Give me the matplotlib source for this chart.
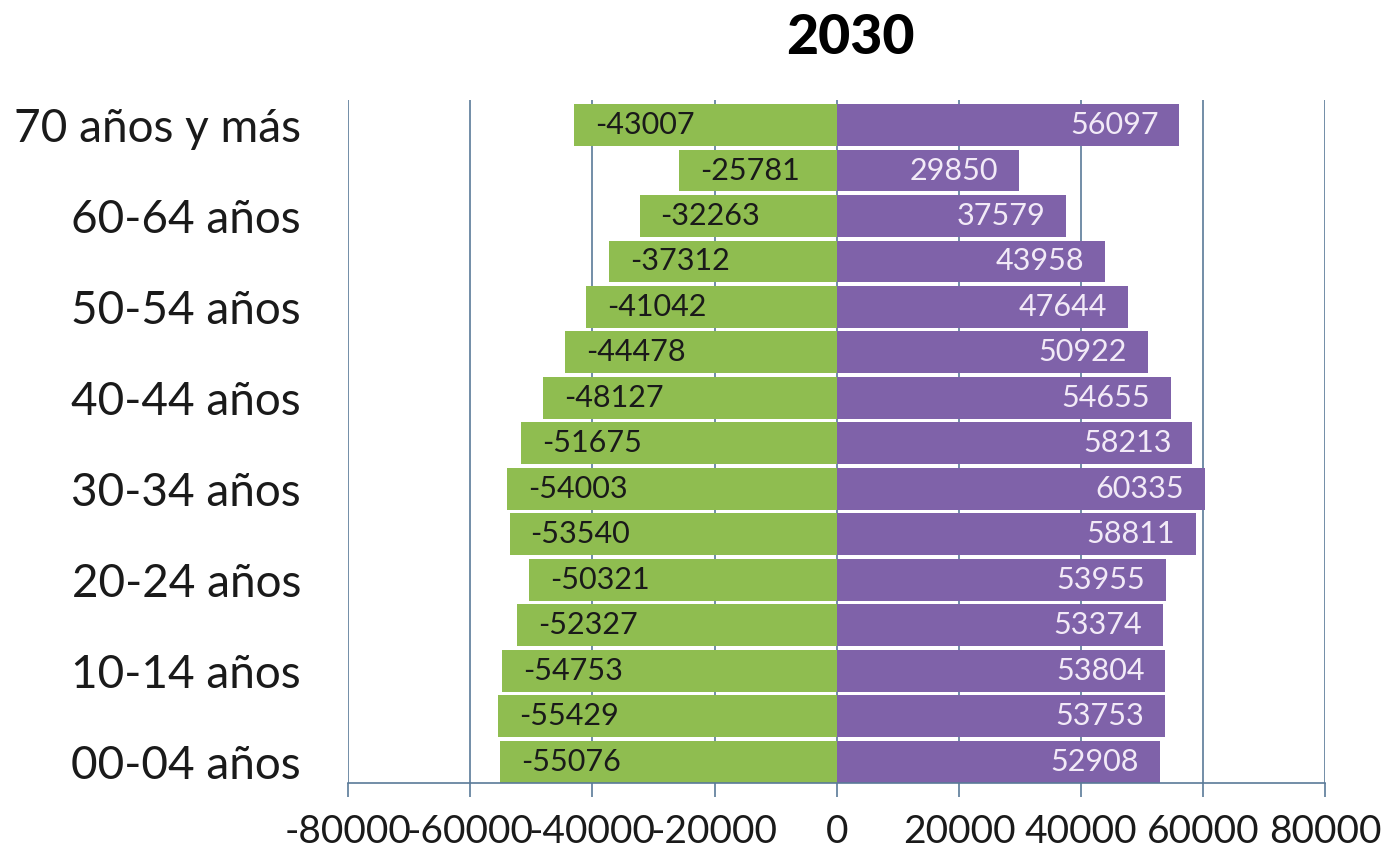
import matplotlib.pyplot as plt
import numpy as np

plt.rcParams['font.family'] = ['Lato', 'DejaVu Sans']
plt.rcParams['axes.unicode_minus'] = False

grupos = ['00-04 años', '05-09 años', '10-14 años', '15-19 años', '20-24 años',
          '25-29 años', '30-34 años', '35-39 años', '40-44 años', '45-49 años',
          '50-54 años', '55-59 años', '60-64 años', '65-69 años', '70 años y más']
izq = [-55076, -55429, -54753, -52327, -50321, -53540, -54003, -51675,
       -48127, -44478, -41042, -37312, -32263, -25781, -43007]
der = [52908, 53753, 53804, 53374, 53955, 58811, 60335, 58213,
       54655, 50922, 47644, 43958, 37579, 29850, 56097]
xticks = [-80000, -60000, -40000, -20000, 0, 20000, 40000, 60000, 80000]

verde = '#8fbd50'
morado = '#7f62a9'
gris = '#5a7a98'

fig = plt.figure(figsize=(13.98, 8.48), dpi=100)
ax = fig.add_axes([0.249, 0.0767, 0.6991, 0.8053])

y = np.arange(len(grupos))
ax.barh(y, izq, height=0.92, color=verde, zorder=2)
ax.barh(y, der, height=0.92, color=morado, zorder=2)

for i in range(len(grupos)):
    ax.annotate(str(izq[i]), (izq[i], y[i]), xytext=(15, 0), textcoords='offset points',
                ha='left', va='center', fontsize=22, color='#1a1a1a', zorder=3)
    ax.annotate(str(der[i]), (der[i], y[i]), xytext=(-15, 0), textcoords='offset points',
                ha='right', va='center', fontsize=22, color='#f2eaf7', zorder=3)

ax.set_xlim(-80000, 80000)
ax.set_ylim(-0.47, 14.55)
ax.set_xticks(xticks)
ax.set_xticklabels([str(v) for v in xticks], fontsize=28, color='#1a1a1a')
ax.set_yticks(y[::2])
ax.set_yticklabels(grupos[::2], fontsize=33, color='#1a1a1a')
ax.tick_params(axis='y', length=0, pad=34)
ax.tick_params(axis='x', length=10, width=1.2, color=gris, pad=12)

ax.grid(axis='x', color=gris, linewidth=1.2, zorder=1)
for s in ['top', 'right', 'left']:
    ax.spines[s].set_visible(False)
ax.spines['bottom'].set_color(gris)
ax.spines['bottom'].set_linewidth(1.2)

fig.text(0.608, 0.955, '2030', ha='center', va='center', fontsize=40, fontweight='black')

fig.savefig('out.png', dpi=100)
